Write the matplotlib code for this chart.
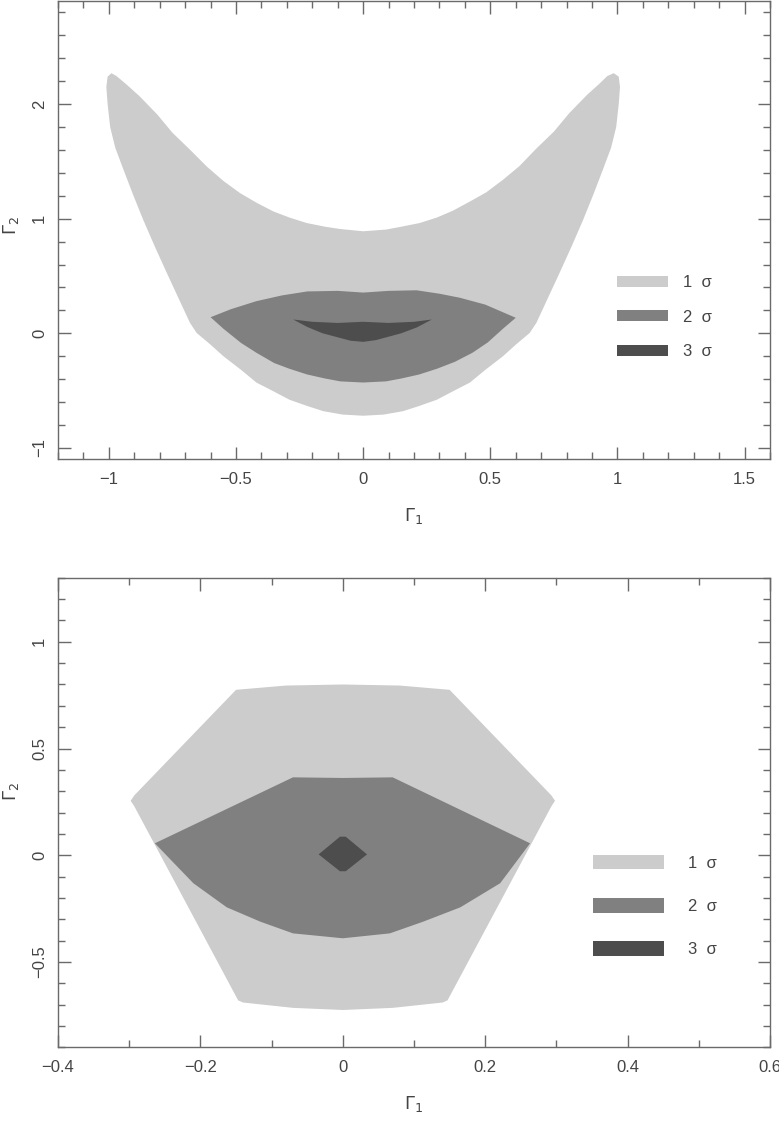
import matplotlib
matplotlib.use('Agg')
import matplotlib.pyplot as plt
from matplotlib.ticker import MultipleLocator, FuncFormatter
from matplotlib.patches import Patch

plt.rcParams['font.family'] = ['Liberation Sans', 'DejaVu Sans']
plt.rcParams['mathtext.fontset'] = 'dejavusans'

LIGHT = '#cccccc'
MID = '#808080'
DARK = '#4d4d4d'
AXCOL = '#6a6a6a'
TXTCOL = '#444444'

# ---- top panel: contour outlines (Gamma1, Gamma2) ----
# inner edge left tip -> right tip, outer right edge down, bottom, outer left edge up
top_1s_x = [-0.99, -0.97, -0.93, -0.88, -0.81, -0.75, -0.68, -0.615, -0.55, -0.484,
            -0.42, -0.353, -0.29, -0.222, -0.15, -0.091, 0.00, 0.09, 0.15, 0.222,
            0.29, 0.353, 0.42, 0.484, 0.55, 0.615, 0.68, 0.75, 0.81, 0.88,
            0.93, 0.96, 0.985, 1.005, 1.01, 1.005, 0.995, 0.975, 0.943, 0.905,
            0.865, 0.82, 0.773, 0.727, 0.681, 0.655, 0.60, 0.55, 0.48, 0.42,
            0.35, 0.29, 0.22, 0.157, 0.08, 0.00, -0.08, -0.157, -0.22, -0.29,
            -0.35, -0.42, -0.48, -0.55, -0.60, -0.655, -0.681, -0.727, -0.773, -0.82,
            -0.865, -0.905, -0.943, -0.975, -0.995, -1.005, -1.01, -1.005]
top_1s_y = [2.27, 2.245, 2.17, 2.07, 1.91, 1.75, 1.60, 1.455, 1.33, 1.223,
            1.14, 1.063, 1.01, 0.962, 0.93, 0.910, 0.89, 0.905, 0.93, 0.962,
            1.01, 1.07, 1.15, 1.23, 1.34, 1.46, 1.61, 1.76, 1.92, 2.08,
            2.18, 2.245, 2.27, 2.24, 2.15, 2.00, 1.80, 1.62, 1.43, 1.21,
            0.99, 0.76, 0.53, 0.31, 0.09, 0.003, -0.10, -0.20, -0.32, -0.43,
            -0.51, -0.58, -0.635, -0.68, -0.71, -0.72, -0.71, -0.68, -0.635, -0.58,
            -0.51, -0.43, -0.32, -0.20, -0.10, 0.003, 0.09, 0.31, 0.53, 0.76,
            0.99, 1.21, 1.43, 1.62, 1.80, 2.00, 2.15, 2.24]

top_2s_x = [-0.60, -0.52, -0.42, -0.32, -0.22, -0.10, 0.00, 0.10, 0.21, 0.30,
            0.38, 0.48, 0.60, 0.55, 0.49, 0.43, 0.36, 0.29, 0.22, 0.15,
            0.09, 0.00, -0.09, -0.15, -0.22, -0.29, -0.35, -0.42, -0.48, -0.55]
top_2s_y = [0.14, 0.21, 0.28, 0.33, 0.365, 0.37, 0.355, 0.37, 0.375, 0.345,
            0.31, 0.25, 0.135, 0.04, -0.08, -0.17, -0.25, -0.31, -0.36, -0.395,
            -0.42, -0.43, -0.42, -0.395, -0.36, -0.31, -0.26, -0.17, -0.085, 0.04]

top_3s_x = [-0.275, -0.20, -0.10, 0.00, 0.10, 0.20, 0.27,
            0.21, 0.15, 0.05, 0.00, -0.05, -0.16, -0.22]
top_3s_y = [0.12, 0.10, 0.09, 0.10, 0.09, 0.10, 0.12,
            0.05, 0.00, -0.06, -0.075, -0.065, 0.00, 0.055]

# ---- bottom panel ----
bot_1s_x = [-0.15, -0.08, 0.00, 0.08, 0.15, 0.293, 0.298, 0.293, 0.147, 0.14,
            0.07, 0.00, -0.07, -0.14, -0.147, -0.293, -0.298, -0.293]
bot_1s_y = [0.775, 0.795, 0.80, 0.795, 0.775, 0.28, 0.255, 0.23, -0.68, -0.69,
            -0.715, -0.725, -0.715, -0.69, -0.68, 0.23, 0.255, 0.28]

bot_2s_x = [-0.264, -0.07, 0.00, 0.07, 0.263, 0.221, 0.165, 0.113, 0.066, 0.00,
            -0.07, -0.116, -0.163, -0.21]
bot_2s_y = [0.056, 0.365, 0.362, 0.365, 0.056, -0.131, -0.244, -0.311, -0.366, -0.389,
            -0.366, -0.311, -0.244, -0.131]

bot_3s_x = [-0.034, -0.004, 0.004, 0.034, 0.004, -0.004]
bot_3s_y = [0.004, 0.087, 0.087, 0.004, -0.075, -0.075]

legend_labels = ['1  \u03c3', '2  \u03c3', '3  \u03c3']


def fmt(v, pos):
    s = '{:g}'.format(round(v, 6))
    return s.replace('-', '\u2212')


def style_axes(ax, xmaj, xmin, ymaj, ymin, ylab_y):
    ax.xaxis.set_major_locator(MultipleLocator(xmaj))
    ax.xaxis.set_minor_locator(MultipleLocator(xmin))
    ax.yaxis.set_major_locator(MultipleLocator(ymaj))
    ax.yaxis.set_minor_locator(MultipleLocator(ymin))
    ax.xaxis.set_major_formatter(FuncFormatter(fmt))
    ax.yaxis.set_major_formatter(FuncFormatter(fmt))
    ax.tick_params(which='both', direction='in', top=True, right=True,
                   color=AXCOL, width=1.0, labelcolor=TXTCOL, labelsize=12)
    ax.tick_params(which='major', length=9)
    ax.tick_params(which='minor', length=5)
    ax.tick_params(axis='x', which='major', pad=9)
    ax.tick_params(axis='y', which='major', pad=8)
    for lab in ax.get_yticklabels():
        lab.set_rotation(90)
        lab.set_va('center')
    for sp in ax.spines.values():
        sp.set_color(AXCOL)
        sp.set_linewidth(1.0)
    ax.set_xlabel(r'$\Gamma_1$', fontsize=13, color=TXTCOL, labelpad=14)
    ax.set_ylabel(r'$\Gamma_2$', fontsize=13, color=TXTCOL, labelpad=8, y=ylab_y)


fig = plt.figure(figsize=(7.79, 11.21), dpi=100)

ax1 = fig.add_axes([0.0745, 0.5903, 0.914, 0.4088])
ax1.fill(top_1s_x, top_1s_y, color=LIGHT, lw=0)
ax1.fill(top_2s_x, top_2s_y, color=MID, lw=0)
ax1.fill(top_3s_x, top_3s_y, color=DARK, lw=0)
ax1.set_xlim(-1.2, 1.6)
ax1.set_ylim(-1.1, 2.9)
style_axes(ax1, 0.5, 0.1, 1, 0.2, 0.511)
handles = [Patch(color=c, lw=0) for c in (LIGHT, MID, DARK)]
ax1.legend(handles, legend_labels, loc='center left', bbox_to_anchor=(0.764, 0.31),
           frameon=False, fontsize=12, handlelength=3.05, handleheight=0.64,
           labelspacing=1.16, handletextpad=0.9, labelcolor=TXTCOL)

ax2 = fig.add_axes([0.0745, 0.0657, 0.914, 0.4189])
ax2.fill(bot_1s_x, bot_1s_y, color=LIGHT, lw=0)
ax2.fill(bot_2s_x, bot_2s_y, color=MID, lw=0)
ax2.fill(bot_3s_x, bot_3s_y, color=DARK, lw=0)
ax2.set_xlim(-0.4, 0.6)
ax2.set_ylim(-0.9, 1.3)
style_axes(ax2, 0.2, 0.1, 0.5, 0.1, 0.545)
ax2.legend(handles, legend_labels, loc='center left', bbox_to_anchor=(0.73, 0.301),
           frameon=False, fontsize=12, handlelength=4.3, handleheight=0.96,
           labelspacing=1.63, handletextpad=1.4, labelcolor=TXTCOL)

fig.savefig('out.png', dpi=100)
